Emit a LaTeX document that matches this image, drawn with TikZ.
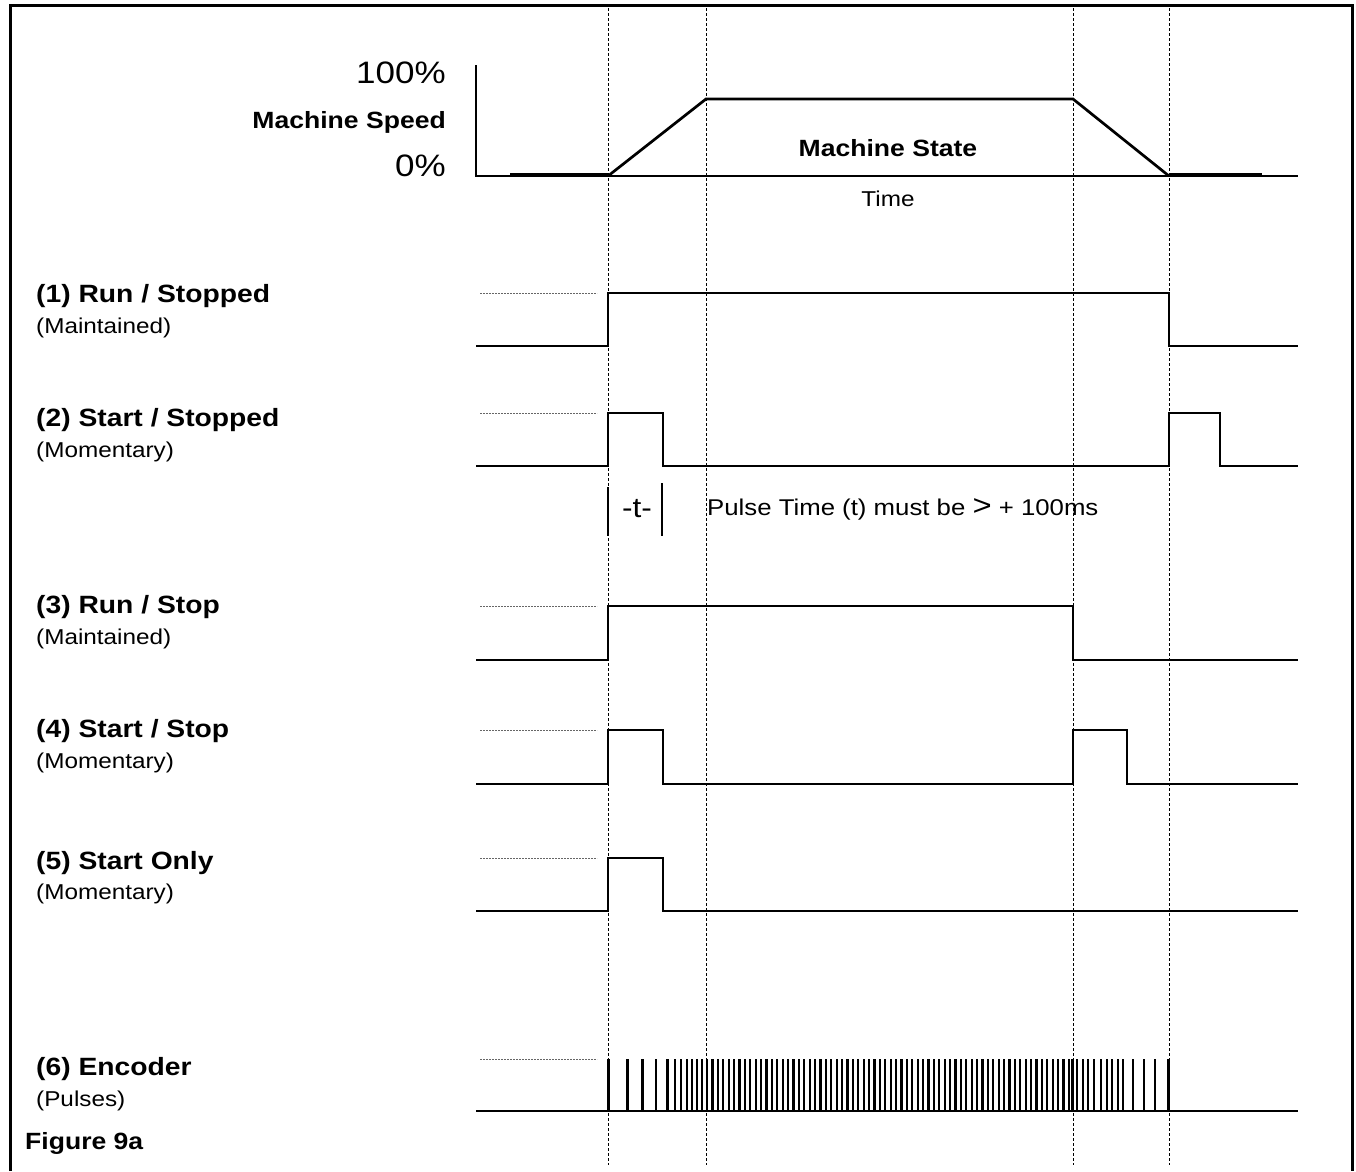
\documentclass[tikz,border=0pt]{standalone}
\usepackage{fontspec}
\setmainfont{Liberation Sans}[FakeStretch=1.13]
\begin{document}
\begin{tikzpicture}[x=1pt,y=-1pt,
  sig/.style={line width=2.7pt, line join=miter},
  pulse/.style={line width=2.2pt},
  vdash/.style={line width=1pt, dash pattern=on 3pt off 2pt},
  refl/.style={line width=0.9pt, black!60, dash pattern=on 2pt off 1pt},
  lab/.style={font=\fontsize{25}{28}\selectfont\bfseries, anchor=west, inner sep=0pt},
  hlab/.style={font=\fontsize{23.5}{26}\selectfont\bfseries, inner sep=0pt},
  sub/.style={font=\fontsize{21.5}{24}\selectfont, anchor=west, inner sep=0pt},
  pct/.style={font=\fontsize{31}{34}\selectfont, anchor=east, inner sep=0pt}]
\useasboundingbox (0,0) rectangle (1356,1171);
% frame
\draw[line width=3pt] (10,1171) -- (10,5) -- (1352,5) -- (1352,1171);
% vertical dashed guides
\foreach \x in {608,706,1073,1169}
  \draw[vdash] (\x,8) -- (\x,1165);
% speed graph
\node[pct] (p100) at (446,73) {100\%};
\node[pct] (p0) at (446,166) {0\%};
\node[hlab, anchor=east] (ms) at (446,122) {Machine Speed};
\draw[sig] (476,65) -- (476,176) -- (1298,176);
\draw[line width=3.6pt] (510,175) -- (608,175);
\draw[line width=3.6pt] (1169,175) -- (1262,175);
\draw[sig] (608,176) -- (706,99) -- (1073,99) -- (1169,176);
\node[hlab, anchor=center] (mst) at (888,148) {Machine State};
\node[sub, anchor=center] (time) at (888,199) {Time};
% (1)
\node[lab] (l1) at (36,296) {(1) Run / Stopped};
\node[sub] (s1) at (36,328) {(Maintained)};
\draw[refl] (480,293) -- (597,293);
\draw[sig] (476,346) -- (608,346) -- (608,293) -- (1169,293) -- (1169,346) -- (1298,346);
% (2)
\node[lab] (l2) at (36,420) {(2) Start / Stopped};
\node[sub] (s2) at (36,452) {(Momentary)};
\draw[refl] (480,413) -- (597,413);
\draw[sig] (476,466) -- (608,466) -- (608,413) -- (663,413) -- (663,466) -- (1169,466) -- (1169,413) -- (1220,413) -- (1220,466) -- (1298,466);
\draw[line width=2pt] (608,487) -- (608,536);
\draw[line width=2pt] (662,483) -- (662,536);
\node[font=\fontsize{28}{30}\selectfont, inner sep=0pt] (tt) at (637,509) {-t-};
\node[sub, font=\fontsize{22.8}{25}\selectfont] (pt) at (707,509) {Pulse Time (t) must be \fontsize{29}{29}\selectfont>\fontsize{22.8}{25}\selectfont{} + 100ms};
% (3)
\node[lab] (l3) at (36,607) {(3) Run / Stop};
\node[sub] (s3) at (36,639) {(Maintained)};
\draw[refl] (480,606) -- (597,606);
\draw[sig] (476,660) -- (608,660) -- (608,606) -- (1073,606) -- (1073,660) -- (1298,660);
% (4)
\node[lab] (l4) at (36,731) {(4) Start / Stop};
\node[sub] (s4) at (36,763) {(Momentary)};
\draw[refl] (480,730) -- (597,730);
\draw[sig] (476,784) -- (608,784) -- (608,730) -- (663,730) -- (663,784) -- (1073,784) -- (1073,730) -- (1127,730) -- (1127,784) -- (1298,784);
% (5)
\node[lab] (l5) at (36,863) {(5) Start Only};
\node[sub] (s5) at (36,894) {(Momentary)};
\draw[refl] (480,858) -- (597,858);
\draw[sig] (476,911) -- (608,911) -- (608,858) -- (663,858) -- (663,911) -- (1298,911);
% (6)
\node[lab] (l6) at (36,1069) {(6) Encoder};
\node[sub] (s6) at (36,1101) {(Pulses)};
\draw[refl] (480,1059) -- (597,1059);
\draw[sig] (476,1111) -- (1298,1111);
\foreach \x in {608.5,627.4,642.5,656.3,667.4,675.3,681.2,686.7,691.9,697,702}
  \draw[pulse] (\x,1111) -- (\x,1059);
\foreach \i in {0,...,67}
  \draw[pulse] ({707+\i*5.4},1111) -- ++(0,-52);
\foreach \x in {1072.5,1077,1083,1088,1094,1101,1107,1112,1118,1123,1133,1144,1155,1168.5}
  \draw[pulse] (\x,1111) -- (\x,1059);
\node[hlab, anchor=west] (fig) at (25,1143) {Figure 9a};
\end{tikzpicture}
\end{document}
